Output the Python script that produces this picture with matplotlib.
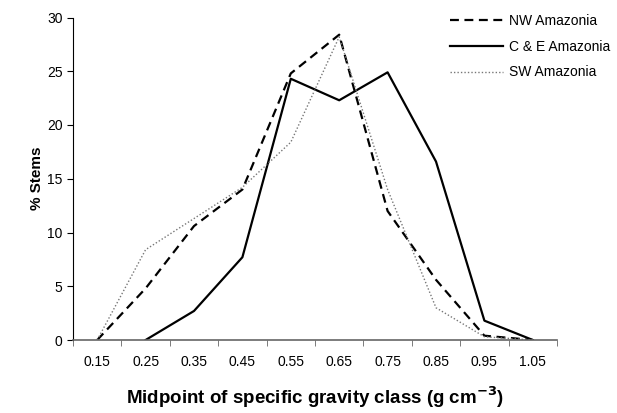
import numpy as np
import matplotlib
matplotlib.use('Agg')
import matplotlib.pyplot as plt

# 比重クラスの中点
classes = ['0.15', '0.25', '0.35', '0.45', '0.55', '0.65', '0.75', '0.85', '0.95', '1.05']
nw = [0, 4.8, 10.6, 14.0, 24.8, 28.4, 12.0, 5.6, 0.4, 0]
ce = [np.nan, 0, 2.7, 7.7, 24.3, 22.3, 24.9, 16.6, 1.8, 0]
sw = [0, 8.4, 11.3, 14.2, 18.4, 28.2, 14.0, 3.0, 0.3, 0]

plt.rcParams['font.family'] = ['Liberation Sans', 'DejaVu Sans']

fig = plt.figure(figsize=(6.17, 4.13), dpi=100)
ax = fig.add_axes([73/617, 1-340/413, (557-73)/617, (340-17.5)/413])

x = np.arange(len(classes))
ax.plot(x, nw, color='black', linestyle=(0, (4, 2.5)), linewidth=1.6, label='NW Amazonia')
ax.plot(x, ce, color='black', linestyle='-', linewidth=1.6, label='C & E Amazonia')
ax.plot(x, sw, color='#777777', linestyle=(0, (1, 1.5)), linewidth=1.0, label='SW Amazonia')

ax.set_xlim(-0.5, len(classes) - 0.5)
ax.set_ylim(0, 30)
ax.set_yticks(np.arange(0, 31, 5))
ax.set_xticks(x)
ax.set_xticklabels(classes)
ax.set_xticks(np.arange(-0.5, len(classes)), minor=True)
ax.tick_params(axis='x', which='major', length=0, pad=11, labelsize=10)
ax.tick_params(axis='x', which='minor', length=4, direction='out', color='#666666')
ax.tick_params(axis='y', length=4, direction='out', labelsize=10)

ax.spines['top'].set_visible(False)
ax.spines['right'].set_visible(False)
ax.spines['bottom'].set_color('#666666')
ax.spines['bottom'].set_linewidth(1.2)

ax.set_ylabel('% Stems', fontsize=11, fontweight='bold', labelpad=2)
ax.set_xlabel('Midpoint of specific gravity class (g cm$^{\\mathbf{-3}}$)', fontsize=13.5, fontweight='bold', labelpad=11)

ax.legend(loc='upper right', bbox_to_anchor=(1.135, 1.05), frameon=False, fontsize=10,
          handlelength=3.8, handletextpad=0.4, labelspacing=0.85)

fig.savefig('out.png', dpi=100)
